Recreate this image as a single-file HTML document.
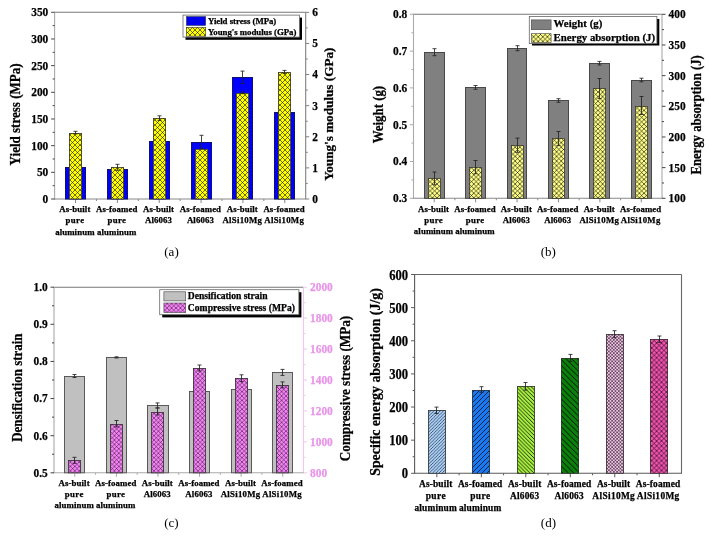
<!DOCTYPE html>
<html><head><meta charset="utf-8"><style>
html,body{margin:0;padding:0;background:#fff;}
svg{display:block;will-change:transform;}
text{font-family:"Liberation Serif","Times New Roman",serif;}
</style></head><body>
<svg width="709" height="541" viewBox="0 0 709 541">
<defs><pattern id="pyA" patternUnits="userSpaceOnUse" width="5" height="5"><rect width="5" height="5" fill="#ffff00"/><path d="M0,0L5,5M5,0L0,5" stroke="#111" stroke-width="0.6" stroke-opacity="1"/></pattern><pattern id="pyB" patternUnits="userSpaceOnUse" width="4.6" height="4.6"><rect width="4.6" height="4.6" fill="#ffff88"/><path d="M0,0L4.6,4.6M4.6,0L0,4.6" stroke="#000" stroke-width="0.6" stroke-opacity="1"/></pattern><pattern id="pmC" patternUnits="userSpaceOnUse" width="4.4" height="4.4"><rect width="4.4" height="4.4" fill="#f585f5"/><path d="M0,0L4.4,4.4M4.4,0L0,4.4" stroke="#200020" stroke-width="0.5" stroke-opacity="1"/></pattern><pattern id="pmCl" patternUnits="userSpaceOnUse" width="4.6" height="4.6"><rect width="4.6" height="4.6" fill="#f070f0"/><path d="M0,0L4.6,4.6M4.6,0L0,4.6" stroke="#000" stroke-width="0.7" stroke-opacity="1"/></pattern><pattern id="pd1" patternUnits="userSpaceOnUse" width="3.2" height="3.2"><rect width="3.2" height="3.2" fill="#a8d0f8"/><path d="M0,3.2L3.2,0M-1.6,1.6L1.6,-1.6M1.6,4.8L4.8,1.6" stroke="#000" stroke-width="0.55" stroke-opacity="1"/></pattern><pattern id="pd2" patternUnits="userSpaceOnUse" width="5" height="5"><rect width="5" height="5" fill="#1a78f0"/><path d="M0,5L5,0M-2.5,2.5L2.5,-2.5M2.5,7.5L7.5,2.5" stroke="#000" stroke-width="0.7" stroke-opacity="1"/></pattern><pattern id="pd3" patternUnits="userSpaceOnUse" width="3.8" height="3.8"><rect width="3.8" height="3.8" fill="#a8f040"/><path d="M0,0L3.8,3.8M-1.9,1.9L1.9,5.7M1.9,-1.9L5.7,1.9" stroke="#000" stroke-width="0.8" stroke-opacity="1"/></pattern><pattern id="pd4" patternUnits="userSpaceOnUse" width="5.6" height="5.6"><rect width="5.6" height="5.6" fill="#0c800c"/><path d="M0,0L5.6,5.6M-2.8,2.8L2.8,8.4M2.8,-2.8L8.4,2.8" stroke="#000" stroke-width="0.9" stroke-opacity="1"/></pattern><pattern id="pd5" patternUnits="userSpaceOnUse" width="3.3" height="3.3"><rect width="3.3" height="3.3" fill="#f8c4ec"/><path d="M0,0L3.3,3.3M3.3,0L0,3.3" stroke="#000" stroke-width="0.5" stroke-opacity="1"/></pattern><pattern id="pd6" patternUnits="userSpaceOnUse" width="4.9" height="4.9"><rect width="4.9" height="4.9" fill="#f452b0"/><path d="M0,0L4.9,4.9M4.9,0L0,4.9" stroke="#000" stroke-width="0.6" stroke-opacity="1"/></pattern></defs>
<rect width="709" height="541" fill="#fff"/>
<line x1="54.1" y1="12.3" x2="305.7" y2="12.3" stroke="#777" stroke-width="1.1"/>
<line x1="54.6" y1="12.3" x2="54.6" y2="199.5" stroke="#aaa" stroke-width="1.1"/>
<line x1="305.7" y1="12.3" x2="305.7" y2="199" stroke="#808080" stroke-width="1.1"/>
<line x1="54.1" y1="199" x2="306.2" y2="199" stroke="#888" stroke-width="1.1"/>
<line x1="51.1" y1="199" x2="54.6" y2="199" stroke="#444" stroke-width="1"/>
<text x="48.3" y="202.9" font-size="13.5" font-weight="bold" text-anchor="end" fill="#000" stroke="#000" stroke-width="0.25" textLength="5.7" lengthAdjust="spacingAndGlyphs">0</text>
<line x1="52.6" y1="185.66" x2="54.6" y2="185.66" stroke="#444" stroke-width="1"/>
<line x1="51.1" y1="172.33" x2="54.6" y2="172.33" stroke="#444" stroke-width="1"/>
<text x="48.3" y="176.23" font-size="13.5" font-weight="bold" text-anchor="end" fill="#000" stroke="#000" stroke-width="0.25" textLength="11.4" lengthAdjust="spacingAndGlyphs">50</text>
<line x1="52.6" y1="158.99" x2="54.6" y2="158.99" stroke="#444" stroke-width="1"/>
<line x1="51.1" y1="145.66" x2="54.6" y2="145.66" stroke="#444" stroke-width="1"/>
<text x="48.3" y="149.56" font-size="13.5" font-weight="bold" text-anchor="end" fill="#000" stroke="#000" stroke-width="0.25" textLength="17.1" lengthAdjust="spacingAndGlyphs">100</text>
<line x1="52.6" y1="132.32" x2="54.6" y2="132.32" stroke="#444" stroke-width="1"/>
<line x1="51.1" y1="118.99" x2="54.6" y2="118.99" stroke="#444" stroke-width="1"/>
<text x="48.3" y="122.89" font-size="13.5" font-weight="bold" text-anchor="end" fill="#000" stroke="#000" stroke-width="0.25" textLength="17.1" lengthAdjust="spacingAndGlyphs">150</text>
<line x1="52.6" y1="105.65" x2="54.6" y2="105.65" stroke="#444" stroke-width="1"/>
<line x1="51.1" y1="92.31" x2="54.6" y2="92.31" stroke="#444" stroke-width="1"/>
<text x="48.3" y="96.21" font-size="13.5" font-weight="bold" text-anchor="end" fill="#000" stroke="#000" stroke-width="0.25" textLength="17.1" lengthAdjust="spacingAndGlyphs">200</text>
<line x1="52.6" y1="78.98" x2="54.6" y2="78.98" stroke="#444" stroke-width="1"/>
<line x1="51.1" y1="65.64" x2="54.6" y2="65.64" stroke="#444" stroke-width="1"/>
<text x="48.3" y="69.54" font-size="13.5" font-weight="bold" text-anchor="end" fill="#000" stroke="#000" stroke-width="0.25" textLength="17.1" lengthAdjust="spacingAndGlyphs">250</text>
<line x1="52.6" y1="52.31" x2="54.6" y2="52.31" stroke="#444" stroke-width="1"/>
<line x1="51.1" y1="38.97" x2="54.6" y2="38.97" stroke="#444" stroke-width="1"/>
<text x="48.3" y="42.87" font-size="13.5" font-weight="bold" text-anchor="end" fill="#000" stroke="#000" stroke-width="0.25" textLength="17.1" lengthAdjust="spacingAndGlyphs">300</text>
<line x1="52.6" y1="25.64" x2="54.6" y2="25.64" stroke="#444" stroke-width="1"/>
<line x1="51.1" y1="12.3" x2="54.6" y2="12.3" stroke="#444" stroke-width="1"/>
<text x="48.3" y="16.2" font-size="13.5" font-weight="bold" text-anchor="end" fill="#000" stroke="#000" stroke-width="0.25" textLength="17.1" lengthAdjust="spacingAndGlyphs">350</text>
<line x1="305.7" y1="199" x2="309.2" y2="199" stroke="#808080" stroke-width="1"/>
<text x="312.2" y="202.9" font-size="13.5" font-weight="bold" text-anchor="start" fill="#000" stroke="#000" stroke-width="0.25" textLength="5.7" lengthAdjust="spacingAndGlyphs">0</text>
<line x1="305.7" y1="183.44" x2="307.7" y2="183.44" stroke="#808080" stroke-width="1"/>
<line x1="305.7" y1="167.88" x2="309.2" y2="167.88" stroke="#808080" stroke-width="1"/>
<text x="312.2" y="171.78" font-size="13.5" font-weight="bold" text-anchor="start" fill="#000" stroke="#000" stroke-width="0.25" textLength="5.7" lengthAdjust="spacingAndGlyphs">1</text>
<line x1="305.7" y1="152.32" x2="307.7" y2="152.32" stroke="#808080" stroke-width="1"/>
<line x1="305.7" y1="136.77" x2="309.2" y2="136.77" stroke="#808080" stroke-width="1"/>
<text x="312.2" y="140.67" font-size="13.5" font-weight="bold" text-anchor="start" fill="#000" stroke="#000" stroke-width="0.25" textLength="5.7" lengthAdjust="spacingAndGlyphs">2</text>
<line x1="305.7" y1="121.21" x2="307.7" y2="121.21" stroke="#808080" stroke-width="1"/>
<line x1="305.7" y1="105.65" x2="309.2" y2="105.65" stroke="#808080" stroke-width="1"/>
<text x="312.2" y="109.55" font-size="13.5" font-weight="bold" text-anchor="start" fill="#000" stroke="#000" stroke-width="0.25" textLength="5.7" lengthAdjust="spacingAndGlyphs">3</text>
<line x1="305.7" y1="90.09" x2="307.7" y2="90.09" stroke="#808080" stroke-width="1"/>
<line x1="305.7" y1="74.53" x2="309.2" y2="74.53" stroke="#808080" stroke-width="1"/>
<text x="312.2" y="78.43" font-size="13.5" font-weight="bold" text-anchor="start" fill="#000" stroke="#000" stroke-width="0.25" textLength="5.7" lengthAdjust="spacingAndGlyphs">4</text>
<line x1="305.7" y1="58.98" x2="307.7" y2="58.98" stroke="#808080" stroke-width="1"/>
<line x1="305.7" y1="43.42" x2="309.2" y2="43.42" stroke="#808080" stroke-width="1"/>
<text x="312.2" y="47.32" font-size="13.5" font-weight="bold" text-anchor="start" fill="#000" stroke="#000" stroke-width="0.25" textLength="5.7" lengthAdjust="spacingAndGlyphs">5</text>
<line x1="305.7" y1="27.86" x2="307.7" y2="27.86" stroke="#808080" stroke-width="1"/>
<line x1="305.7" y1="12.3" x2="309.2" y2="12.3" stroke="#808080" stroke-width="1"/>
<text x="312.2" y="16.2" font-size="13.5" font-weight="bold" text-anchor="start" fill="#000" stroke="#000" stroke-width="0.25" textLength="5.7" lengthAdjust="spacingAndGlyphs">6</text>
<line x1="75.53" y1="199" x2="75.53" y2="203" stroke="#888" stroke-width="1"/>
<line x1="117.38" y1="199" x2="117.38" y2="203" stroke="#888" stroke-width="1"/>
<line x1="96.45" y1="199" x2="96.45" y2="201" stroke="#888" stroke-width="1"/>
<line x1="159.22" y1="199" x2="159.22" y2="203" stroke="#888" stroke-width="1"/>
<line x1="138.3" y1="199" x2="138.3" y2="201" stroke="#888" stroke-width="1"/>
<line x1="201.07" y1="199" x2="201.07" y2="203" stroke="#888" stroke-width="1"/>
<line x1="180.15" y1="199" x2="180.15" y2="201" stroke="#888" stroke-width="1"/>
<line x1="242.93" y1="199" x2="242.93" y2="203" stroke="#888" stroke-width="1"/>
<line x1="222" y1="199" x2="222" y2="201" stroke="#888" stroke-width="1"/>
<line x1="284.78" y1="199" x2="284.78" y2="203" stroke="#888" stroke-width="1"/>
<line x1="263.85" y1="199" x2="263.85" y2="201" stroke="#888" stroke-width="1"/>
<text x="74.83" y="212" font-size="8.8" font-weight="bold" text-anchor="middle" fill="#000" stroke="#000" stroke-width="0.25" textLength="31" lengthAdjust="spacing">As-built</text>
<text x="74.83" y="223.2" font-size="8.8" font-weight="bold" text-anchor="middle" fill="#000" stroke="#000" stroke-width="0.25" textLength="18.5" lengthAdjust="spacing">pure</text>
<text x="74.83" y="234.6" font-size="8.8" font-weight="bold" text-anchor="middle" fill="#000" stroke="#000" stroke-width="0.25" textLength="39.3" lengthAdjust="spacing">aluminum</text>
<text x="116.67" y="212" font-size="8.8" font-weight="bold" text-anchor="middle" fill="#000" stroke="#000" stroke-width="0.25" textLength="41.3" lengthAdjust="spacing">As-foamed</text>
<text x="116.67" y="223.2" font-size="8.8" font-weight="bold" text-anchor="middle" fill="#000" stroke="#000" stroke-width="0.25" textLength="18.5" lengthAdjust="spacing">pure</text>
<text x="116.67" y="234.6" font-size="8.8" font-weight="bold" text-anchor="middle" fill="#000" stroke="#000" stroke-width="0.25" textLength="39.3" lengthAdjust="spacing">aluminum</text>
<text x="158.53" y="212" font-size="8.8" font-weight="bold" text-anchor="middle" fill="#000" stroke="#000" stroke-width="0.25" textLength="31" lengthAdjust="spacing">As-built</text>
<text x="158.53" y="223.2" font-size="8.8" font-weight="bold" text-anchor="middle" fill="#000" stroke="#000" stroke-width="0.25" textLength="27" lengthAdjust="spacing">Al6063</text>
<text x="200.38" y="212" font-size="8.8" font-weight="bold" text-anchor="middle" fill="#000" stroke="#000" stroke-width="0.25" textLength="41.3" lengthAdjust="spacing">As-foamed</text>
<text x="200.38" y="223.2" font-size="8.8" font-weight="bold" text-anchor="middle" fill="#000" stroke="#000" stroke-width="0.25" textLength="27" lengthAdjust="spacing">Al6063</text>
<text x="242.23" y="212" font-size="8.8" font-weight="bold" text-anchor="middle" fill="#000" stroke="#000" stroke-width="0.25" textLength="31" lengthAdjust="spacing">As-built</text>
<text x="242.23" y="223.2" font-size="8.8" font-weight="bold" text-anchor="middle" fill="#000" stroke="#000" stroke-width="0.25" textLength="39.5" lengthAdjust="spacing">AlSi10Mg</text>
<text x="284.08" y="212" font-size="8.8" font-weight="bold" text-anchor="middle" fill="#000" stroke="#000" stroke-width="0.25" textLength="41.3" lengthAdjust="spacing">As-foamed</text>
<text x="284.08" y="223.2" font-size="8.8" font-weight="bold" text-anchor="middle" fill="#000" stroke="#000" stroke-width="0.25" textLength="39.5" lengthAdjust="spacing">AlSi10Mg</text>
<rect x="65" y="167" width="21" height="32" fill="#0000ff"/>
<rect x="65.5" y="167.5" width="20" height="31.5" fill="none" stroke="#101070" stroke-width="1"/>
<rect x="107" y="169" width="21" height="30" fill="#0000ff"/>
<rect x="107.5" y="169.5" width="20" height="29.5" fill="none" stroke="#101070" stroke-width="1"/>
<rect x="149" y="141" width="21" height="58" fill="#0000ff"/>
<rect x="149.5" y="141.5" width="20" height="57.5" fill="none" stroke="#101070" stroke-width="1"/>
<rect x="191" y="142" width="21" height="57" fill="#0000ff"/>
<rect x="191.5" y="142.5" width="20" height="56.5" fill="none" stroke="#101070" stroke-width="1"/>
<path d="M201.5,135.3V148.3M199.5,135.3H203.5M199.5,148.3H203.5" stroke="#222" stroke-width="0.85" fill="none"/>
<rect x="232" y="77" width="21" height="122" fill="#0000ff"/>
<rect x="232.5" y="77.5" width="20" height="121.5" fill="none" stroke="#101070" stroke-width="1"/>
<path d="M242.5,71.1V83.5M240.5,71.1H244.5M240.5,83.5H244.5" stroke="#222" stroke-width="0.85" fill="none"/>
<rect x="274" y="112" width="21" height="87" fill="#0000ff"/>
<rect x="274.5" y="112.5" width="20" height="86.5" fill="none" stroke="#101070" stroke-width="1"/>
<rect x="69" y="133" width="13" height="66" fill="url(#pyA)"/>
<rect x="69.5" y="133.5" width="12" height="65.5" fill="none" stroke="#333" stroke-width="0.8"/>
<path d="M75.5,131.3V133.9M73.5,131.3H77.5M73.5,133.9H77.5" stroke="#222" stroke-width="0.85" fill="none"/>
<rect x="111" y="167" width="13" height="32" fill="url(#pyA)"/>
<rect x="111.5" y="167.5" width="12" height="31.5" fill="none" stroke="#333" stroke-width="0.8"/>
<path d="M117.5,164.3V170.3M115.5,164.3H119.5M115.5,170.3H119.5" stroke="#222" stroke-width="0.85" fill="none"/>
<rect x="153" y="118" width="13" height="81" fill="url(#pyA)"/>
<rect x="153.5" y="118.5" width="12" height="80.5" fill="none" stroke="#333" stroke-width="0.8"/>
<path d="M159.5,115.8V120.4M157.5,115.8H161.5M157.5,120.4H161.5" stroke="#222" stroke-width="0.85" fill="none"/>
<rect x="195" y="149" width="13" height="50" fill="url(#pyA)"/>
<rect x="195.5" y="149.5" width="12" height="49.5" fill="none" stroke="#333" stroke-width="0.8"/>
<rect x="236" y="93" width="13" height="106" fill="url(#pyA)"/>
<rect x="236.5" y="93.5" width="12" height="105.5" fill="none" stroke="#333" stroke-width="0.8"/>
<path d="M242.5,92V93.6M240.5,92H244.5M240.5,93.6H244.5" stroke="#222" stroke-width="0.85" fill="none"/>
<rect x="278" y="72" width="13" height="127" fill="url(#pyA)"/>
<rect x="278.5" y="72.5" width="12" height="126.5" fill="none" stroke="#333" stroke-width="0.8"/>
<path d="M284.5,70.4V73.4M282.5,70.4H286.5M282.5,73.4H286.5" stroke="#222" stroke-width="0.85" fill="none"/>
<rect x="185.5" y="17.6" width="116.5" height="22.2" fill="#000"/>
<rect x="183" y="15.1" width="116.5" height="22" fill="#fff" stroke="#666" stroke-width="0.8"/>
<rect x="186.4" y="16.5" width="19.3" height="9" fill="#0000f0" stroke="#333" stroke-width="0.5"/>
<rect x="186.4" y="27.3" width="19.3" height="8.9" fill="url(#pyA)" stroke="#333" stroke-width="0.6"/>
<text x="207.9" y="23.9" font-size="8.8" font-weight="bold" text-anchor="start" fill="#000" stroke="#000" stroke-width="0.25" textLength="68.4" lengthAdjust="spacing">Yield stress (MPa)</text>
<text x="207.9" y="34.7" font-size="8.8" font-weight="bold" text-anchor="start" fill="#000" stroke="#000" stroke-width="0.25" textLength="88.5" lengthAdjust="spacing">Young's modulus (GPa)</text>
<text x="19.9" y="114.4" font-size="13.6" font-weight="bold" text-anchor="middle" fill="#000" stroke="#000" stroke-width="0.25" transform="rotate(-90 19.9 114.4)" textLength="102" lengthAdjust="spacingAndGlyphs">Yield stress (MPa)</text>
<text x="332.6" y="114.2" font-size="13.4" font-weight="bold" text-anchor="middle" fill="#000" stroke="#000" stroke-width="0.25" transform="rotate(-90 332.6 114.2)" textLength="133.2" lengthAdjust="spacingAndGlyphs">Young's modulus (GPa)</text>
<text x="171.5" y="255.7" font-size="13" font-weight="normal" text-anchor="middle" fill="#000">(a)</text>
<line x1="413" y1="14.3" x2="662" y2="14.3" stroke="#777" stroke-width="1.1"/>
<line x1="413.5" y1="14.3" x2="413.5" y2="198.8" stroke="#aaa" stroke-width="1.1"/>
<line x1="662" y1="14.3" x2="662" y2="198.3" stroke="#aaa" stroke-width="1.1"/>
<line x1="413" y1="198.3" x2="662.5" y2="198.3" stroke="#888" stroke-width="1.1"/>
<line x1="410" y1="198.3" x2="413.5" y2="198.3" stroke="#aaa" stroke-width="1"/>
<text x="407.2" y="202.2" font-size="13.5" font-weight="bold" text-anchor="end" fill="#000" stroke="#000" stroke-width="0.25" textLength="14.25" lengthAdjust="spacingAndGlyphs">0.3</text>
<line x1="411.5" y1="179.9" x2="413.5" y2="179.9" stroke="#aaa" stroke-width="1"/>
<line x1="410" y1="161.5" x2="413.5" y2="161.5" stroke="#aaa" stroke-width="1"/>
<text x="407.2" y="165.4" font-size="13.5" font-weight="bold" text-anchor="end" fill="#000" stroke="#000" stroke-width="0.25" textLength="14.25" lengthAdjust="spacingAndGlyphs">0.4</text>
<line x1="411.5" y1="143.1" x2="413.5" y2="143.1" stroke="#aaa" stroke-width="1"/>
<line x1="410" y1="124.7" x2="413.5" y2="124.7" stroke="#aaa" stroke-width="1"/>
<text x="407.2" y="128.6" font-size="13.5" font-weight="bold" text-anchor="end" fill="#000" stroke="#000" stroke-width="0.25" textLength="14.25" lengthAdjust="spacingAndGlyphs">0.5</text>
<line x1="411.5" y1="106.3" x2="413.5" y2="106.3" stroke="#aaa" stroke-width="1"/>
<line x1="410" y1="87.9" x2="413.5" y2="87.9" stroke="#aaa" stroke-width="1"/>
<text x="407.2" y="91.8" font-size="13.5" font-weight="bold" text-anchor="end" fill="#000" stroke="#000" stroke-width="0.25" textLength="14.25" lengthAdjust="spacingAndGlyphs">0.6</text>
<line x1="411.5" y1="69.5" x2="413.5" y2="69.5" stroke="#aaa" stroke-width="1"/>
<line x1="410" y1="51.1" x2="413.5" y2="51.1" stroke="#aaa" stroke-width="1"/>
<text x="407.2" y="55" font-size="13.5" font-weight="bold" text-anchor="end" fill="#000" stroke="#000" stroke-width="0.25" textLength="14.25" lengthAdjust="spacingAndGlyphs">0.7</text>
<line x1="411.5" y1="32.7" x2="413.5" y2="32.7" stroke="#aaa" stroke-width="1"/>
<line x1="410" y1="14.3" x2="413.5" y2="14.3" stroke="#aaa" stroke-width="1"/>
<text x="407.2" y="18.2" font-size="13.5" font-weight="bold" text-anchor="end" fill="#000" stroke="#000" stroke-width="0.25" textLength="14.25" lengthAdjust="spacingAndGlyphs">0.8</text>
<line x1="662" y1="198.3" x2="665.5" y2="198.3" stroke="#444" stroke-width="1"/>
<text x="668.5" y="202.2" font-size="13.5" font-weight="bold" text-anchor="start" fill="#000" stroke="#000" stroke-width="0.25" textLength="17.1" lengthAdjust="spacingAndGlyphs">100</text>
<line x1="662" y1="182.97" x2="664" y2="182.97" stroke="#444" stroke-width="1"/>
<line x1="662" y1="167.63" x2="665.5" y2="167.63" stroke="#444" stroke-width="1"/>
<text x="668.5" y="171.53" font-size="13.5" font-weight="bold" text-anchor="start" fill="#000" stroke="#000" stroke-width="0.25" textLength="17.1" lengthAdjust="spacingAndGlyphs">150</text>
<line x1="662" y1="152.3" x2="664" y2="152.3" stroke="#444" stroke-width="1"/>
<line x1="662" y1="136.97" x2="665.5" y2="136.97" stroke="#444" stroke-width="1"/>
<text x="668.5" y="140.87" font-size="13.5" font-weight="bold" text-anchor="start" fill="#000" stroke="#000" stroke-width="0.25" textLength="17.1" lengthAdjust="spacingAndGlyphs">200</text>
<line x1="662" y1="121.63" x2="664" y2="121.63" stroke="#444" stroke-width="1"/>
<line x1="662" y1="106.3" x2="665.5" y2="106.3" stroke="#444" stroke-width="1"/>
<text x="668.5" y="110.2" font-size="13.5" font-weight="bold" text-anchor="start" fill="#000" stroke="#000" stroke-width="0.25" textLength="17.1" lengthAdjust="spacingAndGlyphs">250</text>
<line x1="662" y1="90.97" x2="664" y2="90.97" stroke="#444" stroke-width="1"/>
<line x1="662" y1="75.63" x2="665.5" y2="75.63" stroke="#444" stroke-width="1"/>
<text x="668.5" y="79.53" font-size="13.5" font-weight="bold" text-anchor="start" fill="#000" stroke="#000" stroke-width="0.25" textLength="17.1" lengthAdjust="spacingAndGlyphs">300</text>
<line x1="662" y1="60.3" x2="664" y2="60.3" stroke="#444" stroke-width="1"/>
<line x1="662" y1="44.97" x2="665.5" y2="44.97" stroke="#444" stroke-width="1"/>
<text x="668.5" y="48.87" font-size="13.5" font-weight="bold" text-anchor="start" fill="#000" stroke="#000" stroke-width="0.25" textLength="17.1" lengthAdjust="spacingAndGlyphs">350</text>
<line x1="662" y1="29.63" x2="664" y2="29.63" stroke="#444" stroke-width="1"/>
<line x1="662" y1="14.3" x2="665.5" y2="14.3" stroke="#444" stroke-width="1"/>
<text x="668.5" y="18.2" font-size="13.5" font-weight="bold" text-anchor="start" fill="#000" stroke="#000" stroke-width="0.25" textLength="17.1" lengthAdjust="spacingAndGlyphs">400</text>
<line x1="434.21" y1="198.3" x2="434.21" y2="202.3" stroke="#888" stroke-width="1"/>
<line x1="475.62" y1="198.3" x2="475.62" y2="202.3" stroke="#888" stroke-width="1"/>
<line x1="454.92" y1="198.3" x2="454.92" y2="200.3" stroke="#888" stroke-width="1"/>
<line x1="517.04" y1="198.3" x2="517.04" y2="202.3" stroke="#888" stroke-width="1"/>
<line x1="496.33" y1="198.3" x2="496.33" y2="200.3" stroke="#888" stroke-width="1"/>
<line x1="558.46" y1="198.3" x2="558.46" y2="202.3" stroke="#888" stroke-width="1"/>
<line x1="537.75" y1="198.3" x2="537.75" y2="200.3" stroke="#888" stroke-width="1"/>
<line x1="599.88" y1="198.3" x2="599.88" y2="202.3" stroke="#888" stroke-width="1"/>
<line x1="579.17" y1="198.3" x2="579.17" y2="200.3" stroke="#888" stroke-width="1"/>
<line x1="641.29" y1="198.3" x2="641.29" y2="202.3" stroke="#888" stroke-width="1"/>
<line x1="620.58" y1="198.3" x2="620.58" y2="200.3" stroke="#888" stroke-width="1"/>
<text x="433.51" y="211.8" font-size="8.8" font-weight="bold" text-anchor="middle" fill="#000" stroke="#000" stroke-width="0.25" textLength="31" lengthAdjust="spacing">As-built</text>
<text x="433.51" y="223" font-size="8.8" font-weight="bold" text-anchor="middle" fill="#000" stroke="#000" stroke-width="0.25" textLength="18.5" lengthAdjust="spacing">pure</text>
<text x="433.51" y="234.4" font-size="8.8" font-weight="bold" text-anchor="middle" fill="#000" stroke="#000" stroke-width="0.25" textLength="39.3" lengthAdjust="spacing">aluminum</text>
<text x="474.93" y="211.8" font-size="8.8" font-weight="bold" text-anchor="middle" fill="#000" stroke="#000" stroke-width="0.25" textLength="41.3" lengthAdjust="spacing">As-foamed</text>
<text x="474.93" y="223" font-size="8.8" font-weight="bold" text-anchor="middle" fill="#000" stroke="#000" stroke-width="0.25" textLength="18.5" lengthAdjust="spacing">pure</text>
<text x="474.93" y="234.4" font-size="8.8" font-weight="bold" text-anchor="middle" fill="#000" stroke="#000" stroke-width="0.25" textLength="39.3" lengthAdjust="spacing">aluminum</text>
<text x="516.34" y="211.8" font-size="8.8" font-weight="bold" text-anchor="middle" fill="#000" stroke="#000" stroke-width="0.25" textLength="31" lengthAdjust="spacing">As-built</text>
<text x="516.34" y="223" font-size="8.8" font-weight="bold" text-anchor="middle" fill="#000" stroke="#000" stroke-width="0.25" textLength="27" lengthAdjust="spacing">Al6063</text>
<text x="557.76" y="211.8" font-size="8.8" font-weight="bold" text-anchor="middle" fill="#000" stroke="#000" stroke-width="0.25" textLength="41.3" lengthAdjust="spacing">As-foamed</text>
<text x="557.76" y="223" font-size="8.8" font-weight="bold" text-anchor="middle" fill="#000" stroke="#000" stroke-width="0.25" textLength="27" lengthAdjust="spacing">Al6063</text>
<text x="599.17" y="211.8" font-size="8.8" font-weight="bold" text-anchor="middle" fill="#000" stroke="#000" stroke-width="0.25" textLength="31" lengthAdjust="spacing">As-built</text>
<text x="599.17" y="223" font-size="8.8" font-weight="bold" text-anchor="middle" fill="#000" stroke="#000" stroke-width="0.25" textLength="39.5" lengthAdjust="spacing">AlSi10Mg</text>
<text x="640.59" y="211.8" font-size="8.8" font-weight="bold" text-anchor="middle" fill="#000" stroke="#000" stroke-width="0.25" textLength="41.3" lengthAdjust="spacing">As-foamed</text>
<text x="640.59" y="223" font-size="8.8" font-weight="bold" text-anchor="middle" fill="#000" stroke="#000" stroke-width="0.25" textLength="39.5" lengthAdjust="spacing">AlSi10Mg</text>
<rect x="424" y="52" width="21" height="146.3" fill="#808080"/>
<rect x="424.5" y="52.5" width="20" height="145.8" fill="none" stroke="#484848" stroke-width="1"/>
<path d="M434.5,48.7V55.7M432.5,48.7H436.5M432.5,55.7H436.5" stroke="#222" stroke-width="0.85" fill="none"/>
<rect x="465" y="87" width="21" height="111.3" fill="#808080"/>
<rect x="465.5" y="87.5" width="20" height="110.8" fill="none" stroke="#484848" stroke-width="1"/>
<path d="M475.5,85.5V89.3M473.5,85.5H477.5M473.5,89.3H477.5" stroke="#222" stroke-width="0.85" fill="none"/>
<rect x="507" y="48" width="20" height="150.3" fill="#808080"/>
<rect x="507.5" y="48.5" width="19" height="149.8" fill="none" stroke="#484848" stroke-width="1"/>
<path d="M517.5,45.7V50.7M515.5,45.7H519.5M515.5,50.7H519.5" stroke="#222" stroke-width="0.85" fill="none"/>
<rect x="548" y="100" width="21" height="98.3" fill="#808080"/>
<rect x="548.5" y="100.5" width="20" height="97.8" fill="none" stroke="#484848" stroke-width="1"/>
<path d="M558.5,98.7V102.3M556.5,98.7H560.5M556.5,102.3H560.5" stroke="#222" stroke-width="0.85" fill="none"/>
<rect x="589" y="63" width="21" height="135.3" fill="#808080"/>
<rect x="589.5" y="63.5" width="20" height="134.8" fill="none" stroke="#484848" stroke-width="1"/>
<path d="M599.5,61.4V65M597.5,61.4H601.5M597.5,65H601.5" stroke="#222" stroke-width="0.85" fill="none"/>
<rect x="631" y="80" width="21" height="118.3" fill="#808080"/>
<rect x="631.5" y="80.5" width="20" height="117.8" fill="none" stroke="#484848" stroke-width="1"/>
<path d="M641.5,78.2V81.8M639.5,78.2H643.5M639.5,81.8H643.5" stroke="#222" stroke-width="0.85" fill="none"/>
<rect x="428" y="178" width="13" height="20.3" fill="url(#pyB)"/>
<rect x="428.5" y="178.5" width="12" height="19.8" fill="none" stroke="#333" stroke-width="0.8"/>
<path d="M434.5,172V184.8M432.5,172H436.5M432.5,184.8H436.5" stroke="#222" stroke-width="0.85" fill="none"/>
<rect x="469" y="167" width="13" height="31.3" fill="url(#pyB)"/>
<rect x="469.5" y="167.5" width="12" height="30.8" fill="none" stroke="#333" stroke-width="0.8"/>
<path d="M475.5,160.5V173.7M473.5,160.5H477.5M473.5,173.7H477.5" stroke="#222" stroke-width="0.85" fill="none"/>
<rect x="511" y="145" width="13" height="53.3" fill="url(#pyB)"/>
<rect x="511.5" y="145.5" width="12" height="52.8" fill="none" stroke="#333" stroke-width="0.8"/>
<path d="M517.5,138.1V152.3M515.5,138.1H519.5M515.5,152.3H519.5" stroke="#222" stroke-width="0.85" fill="none"/>
<rect x="552" y="138" width="13" height="60.3" fill="url(#pyB)"/>
<rect x="552.5" y="138.5" width="12" height="59.8" fill="none" stroke="#333" stroke-width="0.8"/>
<path d="M558.5,131.5V145.5M556.5,131.5H560.5M556.5,145.5H560.5" stroke="#222" stroke-width="0.85" fill="none"/>
<rect x="593" y="88" width="13" height="110.3" fill="url(#pyB)"/>
<rect x="593.5" y="88.5" width="12" height="109.8" fill="none" stroke="#333" stroke-width="0.8"/>
<path d="M599.5,78.5V98.5M597.5,78.5H601.5M597.5,98.5H601.5" stroke="#222" stroke-width="0.85" fill="none"/>
<rect x="635" y="106" width="13" height="92.3" fill="url(#pyB)"/>
<rect x="635.5" y="106.5" width="12" height="91.8" fill="none" stroke="#333" stroke-width="0.8"/>
<path d="M641.5,96.5V114.5M639.5,96.5H643.5M639.5,114.5H643.5" stroke="#222" stroke-width="0.85" fill="none"/>
<rect x="532" y="19" width="127.3" height="26.5" fill="#000"/>
<rect x="529.3" y="16.5" width="127.6" height="27.1" fill="#fff" stroke="#666" stroke-width="0.8"/>
<rect x="531.3" y="19.9" width="19.8" height="9.8" fill="#808080" stroke="#444" stroke-width="0.6"/>
<rect x="531.3" y="33.7" width="19.8" height="8.9" fill="url(#pyB)" stroke="#444" stroke-width="0.6"/>
<text x="553.6" y="27" font-size="10.8" font-weight="bold" text-anchor="start" fill="#000" stroke="#000" stroke-width="0.25" textLength="48.8" lengthAdjust="spacing">Weight (g)</text>
<text x="553.6" y="40.6" font-size="10.8" font-weight="bold" text-anchor="start" fill="#000" stroke="#000" stroke-width="0.25" textLength="101.4" lengthAdjust="spacing">Energy absorption (J)</text>
<text x="383.3" y="114.6" font-size="13.6" font-weight="bold" text-anchor="middle" fill="#000" stroke="#000" stroke-width="0.25" transform="rotate(-90 383.3 114.6)" textLength="57.5" lengthAdjust="spacingAndGlyphs">Weight (g)</text>
<text x="700.8" y="114.9" font-size="13.6" font-weight="bold" text-anchor="middle" fill="#000" stroke="#000" stroke-width="0.25" transform="rotate(-90 700.8 114.9)" textLength="119.3" lengthAdjust="spacingAndGlyphs">Energy absorption (J)</text>
<text x="548.3" y="255.7" font-size="13" font-weight="normal" text-anchor="middle" fill="#000">(b)</text>
<line x1="53.5" y1="287.2" x2="303.5" y2="287.2" stroke="#777" stroke-width="1.1"/>
<line x1="54" y1="287.2" x2="54" y2="473.3" stroke="#aaa" stroke-width="1.1"/>
<line x1="303.5" y1="287.2" x2="303.5" y2="472.8" stroke="#f2c4f2" stroke-width="1.1"/>
<line x1="53.5" y1="472.8" x2="304" y2="472.8" stroke="#aaa" stroke-width="1.1"/>
<line x1="50.5" y1="472.8" x2="54" y2="472.8" stroke="#444" stroke-width="1"/>
<text x="47.7" y="476.7" font-size="13.5" font-weight="bold" text-anchor="end" fill="#000" stroke="#000" stroke-width="0.25" textLength="14.25" lengthAdjust="spacingAndGlyphs">0.5</text>
<line x1="52" y1="454.24" x2="54" y2="454.24" stroke="#444" stroke-width="1"/>
<line x1="50.5" y1="435.68" x2="54" y2="435.68" stroke="#444" stroke-width="1"/>
<text x="47.7" y="439.58" font-size="13.5" font-weight="bold" text-anchor="end" fill="#000" stroke="#000" stroke-width="0.25" textLength="14.25" lengthAdjust="spacingAndGlyphs">0.6</text>
<line x1="52" y1="417.12" x2="54" y2="417.12" stroke="#444" stroke-width="1"/>
<line x1="50.5" y1="398.56" x2="54" y2="398.56" stroke="#444" stroke-width="1"/>
<text x="47.7" y="402.46" font-size="13.5" font-weight="bold" text-anchor="end" fill="#000" stroke="#000" stroke-width="0.25" textLength="14.25" lengthAdjust="spacingAndGlyphs">0.7</text>
<line x1="52" y1="380" x2="54" y2="380" stroke="#444" stroke-width="1"/>
<line x1="50.5" y1="361.44" x2="54" y2="361.44" stroke="#444" stroke-width="1"/>
<text x="47.7" y="365.34" font-size="13.5" font-weight="bold" text-anchor="end" fill="#000" stroke="#000" stroke-width="0.25" textLength="14.25" lengthAdjust="spacingAndGlyphs">0.8</text>
<line x1="52" y1="342.88" x2="54" y2="342.88" stroke="#444" stroke-width="1"/>
<line x1="50.5" y1="324.32" x2="54" y2="324.32" stroke="#444" stroke-width="1"/>
<text x="47.7" y="328.22" font-size="13.5" font-weight="bold" text-anchor="end" fill="#000" stroke="#000" stroke-width="0.25" textLength="14.25" lengthAdjust="spacingAndGlyphs">0.9</text>
<line x1="52" y1="305.76" x2="54" y2="305.76" stroke="#444" stroke-width="1"/>
<line x1="50.5" y1="287.2" x2="54" y2="287.2" stroke="#444" stroke-width="1"/>
<text x="47.7" y="291.1" font-size="13.5" font-weight="bold" text-anchor="end" fill="#000" stroke="#000" stroke-width="0.25" textLength="14.25" lengthAdjust="spacingAndGlyphs">1.0</text>
<line x1="303.5" y1="472.8" x2="307" y2="472.8" stroke="#f2c4f2" stroke-width="1"/>
<text x="310" y="476.7" font-size="13.5" font-weight="bold" text-anchor="start" fill="#ea94ea" stroke="#ea94ea" stroke-width="0.25" textLength="17.1" lengthAdjust="spacingAndGlyphs">800</text>
<line x1="303.5" y1="457.33" x2="305.5" y2="457.33" stroke="#f2c4f2" stroke-width="1"/>
<line x1="303.5" y1="441.87" x2="307" y2="441.87" stroke="#f2c4f2" stroke-width="1"/>
<text x="310" y="445.77" font-size="13.5" font-weight="bold" text-anchor="start" fill="#ea94ea" stroke="#ea94ea" stroke-width="0.25" textLength="22.8" lengthAdjust="spacingAndGlyphs">1000</text>
<line x1="303.5" y1="426.4" x2="305.5" y2="426.4" stroke="#f2c4f2" stroke-width="1"/>
<line x1="303.5" y1="410.93" x2="307" y2="410.93" stroke="#f2c4f2" stroke-width="1"/>
<text x="310" y="414.83" font-size="13.5" font-weight="bold" text-anchor="start" fill="#ea94ea" stroke="#ea94ea" stroke-width="0.25" textLength="22.8" lengthAdjust="spacingAndGlyphs">1200</text>
<line x1="303.5" y1="395.47" x2="305.5" y2="395.47" stroke="#f2c4f2" stroke-width="1"/>
<line x1="303.5" y1="380" x2="307" y2="380" stroke="#f2c4f2" stroke-width="1"/>
<text x="310" y="383.9" font-size="13.5" font-weight="bold" text-anchor="start" fill="#ea94ea" stroke="#ea94ea" stroke-width="0.25" textLength="22.8" lengthAdjust="spacingAndGlyphs">1400</text>
<line x1="303.5" y1="364.53" x2="305.5" y2="364.53" stroke="#f2c4f2" stroke-width="1"/>
<line x1="303.5" y1="349.07" x2="307" y2="349.07" stroke="#f2c4f2" stroke-width="1"/>
<text x="310" y="352.97" font-size="13.5" font-weight="bold" text-anchor="start" fill="#ea94ea" stroke="#ea94ea" stroke-width="0.25" textLength="22.8" lengthAdjust="spacingAndGlyphs">1600</text>
<line x1="303.5" y1="333.6" x2="305.5" y2="333.6" stroke="#f2c4f2" stroke-width="1"/>
<line x1="303.5" y1="318.13" x2="307" y2="318.13" stroke="#f2c4f2" stroke-width="1"/>
<text x="310" y="322.03" font-size="13.5" font-weight="bold" text-anchor="start" fill="#ea94ea" stroke="#ea94ea" stroke-width="0.25" textLength="22.8" lengthAdjust="spacingAndGlyphs">1800</text>
<line x1="303.5" y1="302.67" x2="305.5" y2="302.67" stroke="#f2c4f2" stroke-width="1"/>
<line x1="303.5" y1="287.2" x2="307" y2="287.2" stroke="#f2c4f2" stroke-width="1"/>
<text x="310" y="291.1" font-size="13.5" font-weight="bold" text-anchor="start" fill="#ea94ea" stroke="#ea94ea" stroke-width="0.25" textLength="22.8" lengthAdjust="spacingAndGlyphs">2000</text>
<line x1="74.79" y1="472.8" x2="74.79" y2="476.8" stroke="#aaa" stroke-width="1"/>
<line x1="116.38" y1="472.8" x2="116.38" y2="476.8" stroke="#aaa" stroke-width="1"/>
<line x1="95.58" y1="472.8" x2="95.58" y2="474.8" stroke="#aaa" stroke-width="1"/>
<line x1="157.96" y1="472.8" x2="157.96" y2="476.8" stroke="#aaa" stroke-width="1"/>
<line x1="137.17" y1="472.8" x2="137.17" y2="474.8" stroke="#aaa" stroke-width="1"/>
<line x1="199.54" y1="472.8" x2="199.54" y2="476.8" stroke="#aaa" stroke-width="1"/>
<line x1="178.75" y1="472.8" x2="178.75" y2="474.8" stroke="#aaa" stroke-width="1"/>
<line x1="241.12" y1="472.8" x2="241.12" y2="476.8" stroke="#aaa" stroke-width="1"/>
<line x1="220.33" y1="472.8" x2="220.33" y2="474.8" stroke="#aaa" stroke-width="1"/>
<line x1="282.71" y1="472.8" x2="282.71" y2="476.8" stroke="#aaa" stroke-width="1"/>
<line x1="261.92" y1="472.8" x2="261.92" y2="474.8" stroke="#aaa" stroke-width="1"/>
<text x="74.09" y="485.7" font-size="8.8" font-weight="bold" text-anchor="middle" fill="#000" stroke="#000" stroke-width="0.25" textLength="31" lengthAdjust="spacing">As-built</text>
<text x="74.09" y="496.9" font-size="8.8" font-weight="bold" text-anchor="middle" fill="#000" stroke="#000" stroke-width="0.25" textLength="18.5" lengthAdjust="spacing">pure</text>
<text x="74.09" y="508.3" font-size="8.8" font-weight="bold" text-anchor="middle" fill="#000" stroke="#000" stroke-width="0.25" textLength="39.3" lengthAdjust="spacing">aluminum</text>
<text x="115.67" y="485.7" font-size="8.8" font-weight="bold" text-anchor="middle" fill="#000" stroke="#000" stroke-width="0.25" textLength="41.3" lengthAdjust="spacing">As-foamed</text>
<text x="115.67" y="496.9" font-size="8.8" font-weight="bold" text-anchor="middle" fill="#000" stroke="#000" stroke-width="0.25" textLength="18.5" lengthAdjust="spacing">pure</text>
<text x="115.67" y="508.3" font-size="8.8" font-weight="bold" text-anchor="middle" fill="#000" stroke="#000" stroke-width="0.25" textLength="39.3" lengthAdjust="spacing">aluminum</text>
<text x="157.26" y="485.7" font-size="8.8" font-weight="bold" text-anchor="middle" fill="#000" stroke="#000" stroke-width="0.25" textLength="31" lengthAdjust="spacing">As-built</text>
<text x="157.26" y="496.9" font-size="8.8" font-weight="bold" text-anchor="middle" fill="#000" stroke="#000" stroke-width="0.25" textLength="27" lengthAdjust="spacing">Al6063</text>
<text x="198.84" y="485.7" font-size="8.8" font-weight="bold" text-anchor="middle" fill="#000" stroke="#000" stroke-width="0.25" textLength="41.3" lengthAdjust="spacing">As-foamed</text>
<text x="198.84" y="496.9" font-size="8.8" font-weight="bold" text-anchor="middle" fill="#000" stroke="#000" stroke-width="0.25" textLength="27" lengthAdjust="spacing">Al6063</text>
<text x="240.43" y="485.7" font-size="8.8" font-weight="bold" text-anchor="middle" fill="#000" stroke="#000" stroke-width="0.25" textLength="31" lengthAdjust="spacing">As-built</text>
<text x="240.43" y="496.9" font-size="8.8" font-weight="bold" text-anchor="middle" fill="#000" stroke="#000" stroke-width="0.25" textLength="39.5" lengthAdjust="spacing">AlSi10Mg</text>
<text x="282.01" y="485.7" font-size="8.8" font-weight="bold" text-anchor="middle" fill="#000" stroke="#000" stroke-width="0.25" textLength="41.3" lengthAdjust="spacing">As-foamed</text>
<text x="282.01" y="496.9" font-size="8.8" font-weight="bold" text-anchor="middle" fill="#000" stroke="#000" stroke-width="0.25" textLength="39.5" lengthAdjust="spacing">AlSi10Mg</text>
<rect x="64" y="376" width="21" height="96.8" fill="#c0c0c0"/>
<rect x="64.5" y="376.5" width="20" height="96.3" fill="none" stroke="#505050" stroke-width="0.9"/>
<path d="M74.5,374.5V377.5M72.5,374.5H76.5M72.5,377.5H76.5" stroke="#222" stroke-width="0.85" fill="none"/>
<rect x="106" y="357" width="21" height="115.8" fill="#c0c0c0"/>
<rect x="106.5" y="357.5" width="20" height="115.3" fill="none" stroke="#505050" stroke-width="0.9"/>
<path d="M116.5,356.8V358M114.5,356.8H118.5M114.5,358H118.5" stroke="#222" stroke-width="0.85" fill="none"/>
<rect x="147" y="405" width="22" height="67.8" fill="#c0c0c0"/>
<rect x="147.5" y="405.5" width="21" height="67.3" fill="none" stroke="#505050" stroke-width="0.9"/>
<path d="M157.5,402.9V407.9M155.5,402.9H159.5M155.5,407.9H159.5" stroke="#222" stroke-width="0.85" fill="none"/>
<rect x="189" y="391" width="21" height="81.8" fill="#c0c0c0"/>
<rect x="189.5" y="391.5" width="20" height="81.3" fill="none" stroke="#505050" stroke-width="0.9"/>
<rect x="231" y="389" width="21" height="83.8" fill="#c0c0c0"/>
<rect x="231.5" y="389.5" width="20" height="83.3" fill="none" stroke="#505050" stroke-width="0.9"/>
<rect x="272" y="372" width="21" height="100.8" fill="#c0c0c0"/>
<rect x="272.5" y="372.5" width="20" height="100.3" fill="none" stroke="#505050" stroke-width="0.9"/>
<path d="M282.5,369.4V375.4M280.5,369.4H284.5M280.5,375.4H284.5" stroke="#222" stroke-width="0.85" fill="none"/>
<rect x="68" y="460" width="13" height="12.8" fill="url(#pmC)"/>
<rect x="68.5" y="460.5" width="12" height="12.3" fill="none" stroke="#333" stroke-width="0.8"/>
<path d="M74.5,457.3V463.3M72.5,457.3H76.5M72.5,463.3H76.5" stroke="#222" stroke-width="0.85" fill="none"/>
<rect x="110" y="424" width="13" height="48.8" fill="url(#pmC)"/>
<rect x="110.5" y="424.5" width="12" height="48.3" fill="none" stroke="#333" stroke-width="0.8"/>
<path d="M116.5,420.5V426.9M114.5,420.5H118.5M114.5,426.9H118.5" stroke="#222" stroke-width="0.85" fill="none"/>
<rect x="151" y="412" width="13" height="60.8" fill="url(#pmC)"/>
<rect x="151.5" y="412.5" width="12" height="60.3" fill="none" stroke="#333" stroke-width="0.8"/>
<path d="M157.5,408V415M155.5,408H159.5M155.5,415H159.5" stroke="#222" stroke-width="0.85" fill="none"/>
<rect x="193" y="368" width="13" height="104.8" fill="url(#pmC)"/>
<rect x="193.5" y="368.5" width="12" height="104.3" fill="none" stroke="#333" stroke-width="0.8"/>
<path d="M199.5,365V371M197.5,365H201.5M197.5,371H201.5" stroke="#222" stroke-width="0.85" fill="none"/>
<rect x="235" y="378" width="13" height="94.8" fill="url(#pmC)"/>
<rect x="235.5" y="378.5" width="12" height="94.3" fill="none" stroke="#333" stroke-width="0.8"/>
<path d="M241.5,374.8V381.6M239.5,374.8H243.5M239.5,381.6H243.5" stroke="#222" stroke-width="0.85" fill="none"/>
<rect x="276" y="385" width="13" height="87.8" fill="url(#pmC)"/>
<rect x="276.5" y="385.5" width="12" height="87.3" fill="none" stroke="#333" stroke-width="0.8"/>
<path d="M282.5,381.9V387.9M280.5,381.9H284.5M280.5,387.9H284.5" stroke="#222" stroke-width="0.85" fill="none"/>
<rect x="162.2" y="292.2" width="139.2" height="25.2" fill="#000"/>
<rect x="159.7" y="289.7" width="139.2" height="25" fill="#fff" stroke="#666" stroke-width="0.8"/>
<rect x="163.9" y="291.8" width="21.8" height="9.1" fill="#c0c0c0" stroke="#444" stroke-width="0.6"/>
<rect x="163.9" y="303" width="21.8" height="9.6" fill="url(#pmC)" stroke="#444" stroke-width="0.6"/>
<text x="187.8" y="299.4" font-size="9.6" font-weight="bold" text-anchor="start" fill="#000" stroke="#000" stroke-width="0.25" textLength="79.7" lengthAdjust="spacing">Densification strain</text>
<text x="187.8" y="311.3" font-size="9.6" font-weight="bold" text-anchor="start" fill="#000" stroke="#000" stroke-width="0.25" textLength="107.2" lengthAdjust="spacing">Compressive stress (MPa)</text>
<text x="22.3" y="387.6" font-size="13.6" font-weight="bold" text-anchor="middle" fill="#000" stroke="#000" stroke-width="0.25" transform="rotate(-90 22.3 387.6)" textLength="108.3" lengthAdjust="spacingAndGlyphs">Densification strain</text>
<text x="349.6" y="388.5" font-size="13.6" font-weight="bold" text-anchor="middle" fill="#000" stroke="#000" stroke-width="0.25" transform="rotate(-90 349.6 388.5)" textLength="145.3" lengthAdjust="spacingAndGlyphs">Compressive stress (MPa)</text>
<text x="171.4" y="527.2" font-size="13" font-weight="normal" text-anchor="middle" fill="#000">(c)</text>
<line x1="414.1" y1="274.5" x2="681.5" y2="274.5" stroke="#666" stroke-width="1.1"/>
<line x1="414.6" y1="274.5" x2="414.6" y2="473.8" stroke="#5a5a5a" stroke-width="1.1"/>
<line x1="681.5" y1="274.5" x2="681.5" y2="473.3" stroke="#666" stroke-width="1.1"/>
<line x1="414.1" y1="473.3" x2="682" y2="473.3" stroke="#5a5a5a" stroke-width="1.1"/>
<line x1="411.1" y1="473.3" x2="414.6" y2="473.3" stroke="#5a5a5a" stroke-width="1"/>
<text x="408.1" y="478.3" font-size="14" font-weight="bold" text-anchor="end" fill="#000" stroke="#000" stroke-width="0.25" textLength="6.3" lengthAdjust="spacingAndGlyphs">0</text>
<line x1="412.6" y1="456.73" x2="414.6" y2="456.73" stroke="#5a5a5a" stroke-width="1"/>
<line x1="411.1" y1="440.17" x2="414.6" y2="440.17" stroke="#5a5a5a" stroke-width="1"/>
<text x="408.1" y="445.17" font-size="14" font-weight="bold" text-anchor="end" fill="#000" stroke="#000" stroke-width="0.25" textLength="18.9" lengthAdjust="spacingAndGlyphs">100</text>
<line x1="412.6" y1="423.6" x2="414.6" y2="423.6" stroke="#5a5a5a" stroke-width="1"/>
<line x1="411.1" y1="407.03" x2="414.6" y2="407.03" stroke="#5a5a5a" stroke-width="1"/>
<text x="408.1" y="412.03" font-size="14" font-weight="bold" text-anchor="end" fill="#000" stroke="#000" stroke-width="0.25" textLength="18.9" lengthAdjust="spacingAndGlyphs">200</text>
<line x1="412.6" y1="390.47" x2="414.6" y2="390.47" stroke="#5a5a5a" stroke-width="1"/>
<line x1="411.1" y1="373.9" x2="414.6" y2="373.9" stroke="#5a5a5a" stroke-width="1"/>
<text x="408.1" y="378.9" font-size="14" font-weight="bold" text-anchor="end" fill="#000" stroke="#000" stroke-width="0.25" textLength="18.9" lengthAdjust="spacingAndGlyphs">300</text>
<line x1="412.6" y1="357.33" x2="414.6" y2="357.33" stroke="#5a5a5a" stroke-width="1"/>
<line x1="411.1" y1="340.77" x2="414.6" y2="340.77" stroke="#5a5a5a" stroke-width="1"/>
<text x="408.1" y="345.77" font-size="14" font-weight="bold" text-anchor="end" fill="#000" stroke="#000" stroke-width="0.25" textLength="18.9" lengthAdjust="spacingAndGlyphs">400</text>
<line x1="412.6" y1="324.2" x2="414.6" y2="324.2" stroke="#5a5a5a" stroke-width="1"/>
<line x1="411.1" y1="307.63" x2="414.6" y2="307.63" stroke="#5a5a5a" stroke-width="1"/>
<text x="408.1" y="312.63" font-size="14" font-weight="bold" text-anchor="end" fill="#000" stroke="#000" stroke-width="0.25" textLength="18.9" lengthAdjust="spacingAndGlyphs">500</text>
<line x1="412.6" y1="291.07" x2="414.6" y2="291.07" stroke="#5a5a5a" stroke-width="1"/>
<line x1="411.1" y1="274.5" x2="414.6" y2="274.5" stroke="#5a5a5a" stroke-width="1"/>
<text x="408.1" y="279.5" font-size="14" font-weight="bold" text-anchor="end" fill="#000" stroke="#000" stroke-width="0.25" textLength="18.9" lengthAdjust="spacingAndGlyphs">600</text>
<line x1="436.84" y1="473.3" x2="436.84" y2="477.3" stroke="#5a5a5a" stroke-width="1"/>
<line x1="481.33" y1="473.3" x2="481.33" y2="477.3" stroke="#5a5a5a" stroke-width="1"/>
<line x1="459.08" y1="473.3" x2="459.08" y2="475.3" stroke="#5a5a5a" stroke-width="1"/>
<line x1="525.81" y1="473.3" x2="525.81" y2="477.3" stroke="#5a5a5a" stroke-width="1"/>
<line x1="503.57" y1="473.3" x2="503.57" y2="475.3" stroke="#5a5a5a" stroke-width="1"/>
<line x1="570.29" y1="473.3" x2="570.29" y2="477.3" stroke="#5a5a5a" stroke-width="1"/>
<line x1="548.05" y1="473.3" x2="548.05" y2="475.3" stroke="#5a5a5a" stroke-width="1"/>
<line x1="614.77" y1="473.3" x2="614.77" y2="477.3" stroke="#5a5a5a" stroke-width="1"/>
<line x1="592.53" y1="473.3" x2="592.53" y2="475.3" stroke="#5a5a5a" stroke-width="1"/>
<line x1="659.26" y1="473.3" x2="659.26" y2="477.3" stroke="#5a5a5a" stroke-width="1"/>
<line x1="637.02" y1="473.3" x2="637.02" y2="475.3" stroke="#5a5a5a" stroke-width="1"/>
<text x="435.64" y="486.8" font-size="9.4" font-weight="bold" text-anchor="middle" fill="#000" stroke="#000" stroke-width="0.25" textLength="33.32" lengthAdjust="spacing">As-built</text>
<text x="435.64" y="499.1" font-size="9.4" font-weight="bold" text-anchor="middle" fill="#000" stroke="#000" stroke-width="0.25" textLength="19.89" lengthAdjust="spacing">pure</text>
<text x="435.64" y="511.3" font-size="9.4" font-weight="bold" text-anchor="middle" fill="#000" stroke="#000" stroke-width="0.25" textLength="42.25" lengthAdjust="spacing">aluminum</text>
<text x="480.13" y="486.8" font-size="9.4" font-weight="bold" text-anchor="middle" fill="#000" stroke="#000" stroke-width="0.25" textLength="44.4" lengthAdjust="spacing">As-foamed</text>
<text x="480.13" y="499.1" font-size="9.4" font-weight="bold" text-anchor="middle" fill="#000" stroke="#000" stroke-width="0.25" textLength="19.89" lengthAdjust="spacing">pure</text>
<text x="480.13" y="511.3" font-size="9.4" font-weight="bold" text-anchor="middle" fill="#000" stroke="#000" stroke-width="0.25" textLength="42.25" lengthAdjust="spacing">aluminum</text>
<text x="524.61" y="486.8" font-size="9.4" font-weight="bold" text-anchor="middle" fill="#000" stroke="#000" stroke-width="0.25" textLength="33.32" lengthAdjust="spacing">As-built</text>
<text x="524.61" y="499.1" font-size="9.4" font-weight="bold" text-anchor="middle" fill="#000" stroke="#000" stroke-width="0.25" textLength="29.02" lengthAdjust="spacing">Al6063</text>
<text x="569.09" y="486.8" font-size="9.4" font-weight="bold" text-anchor="middle" fill="#000" stroke="#000" stroke-width="0.25" textLength="44.4" lengthAdjust="spacing">As-foamed</text>
<text x="569.09" y="499.1" font-size="9.4" font-weight="bold" text-anchor="middle" fill="#000" stroke="#000" stroke-width="0.25" textLength="29.02" lengthAdjust="spacing">Al6063</text>
<text x="613.57" y="486.8" font-size="9.4" font-weight="bold" text-anchor="middle" fill="#000" stroke="#000" stroke-width="0.25" textLength="33.32" lengthAdjust="spacing">As-built</text>
<text x="613.57" y="499.1" font-size="9.4" font-weight="bold" text-anchor="middle" fill="#000" stroke="#000" stroke-width="0.25" textLength="42.46" lengthAdjust="spacing">AlSi10Mg</text>
<text x="658.06" y="486.8" font-size="9.4" font-weight="bold" text-anchor="middle" fill="#000" stroke="#000" stroke-width="0.25" textLength="44.4" lengthAdjust="spacing">As-foamed</text>
<text x="658.06" y="499.1" font-size="9.4" font-weight="bold" text-anchor="middle" fill="#000" stroke="#000" stroke-width="0.25" textLength="42.46" lengthAdjust="spacing">AlSi10Mg</text>
<rect x="428" y="410" width="18" height="63.3" fill="url(#pd1)"/>
<rect x="428.5" y="410.5" width="17" height="62.8" fill="none" stroke="#333" stroke-width="0.8"/>
<path d="M436.5,407.1V413.5M434.5,407.1H438.5M434.5,413.5H438.5" stroke="#222" stroke-width="0.85" fill="none"/>
<rect x="472" y="390" width="18" height="83.3" fill="url(#pd2)"/>
<rect x="472.5" y="390.5" width="17" height="82.8" fill="none" stroke="#333" stroke-width="0.8"/>
<path d="M481.5,386.7V392.3M479.5,386.7H483.5M479.5,392.3H483.5" stroke="#222" stroke-width="0.85" fill="none"/>
<rect x="517" y="386" width="18" height="87.3" fill="url(#pd3)"/>
<rect x="517.5" y="386.5" width="17" height="86.8" fill="none" stroke="#333" stroke-width="0.8"/>
<path d="M525.5,382.5V390.1M523.5,382.5H527.5M523.5,390.1H527.5" stroke="#222" stroke-width="0.85" fill="none"/>
<rect x="561" y="358" width="18" height="115.3" fill="url(#pd4)"/>
<rect x="561.5" y="358.5" width="17" height="114.8" fill="none" stroke="#333" stroke-width="0.8"/>
<path d="M570.5,354.4V361.4M568.5,354.4H572.5M568.5,361.4H572.5" stroke="#222" stroke-width="0.85" fill="none"/>
<rect x="606" y="334" width="18" height="139.3" fill="url(#pd5)"/>
<rect x="606.5" y="334.5" width="17" height="138.8" fill="none" stroke="#333" stroke-width="0.8"/>
<path d="M614.5,330.7V337.7M612.5,330.7H616.5M612.5,337.7H616.5" stroke="#222" stroke-width="0.85" fill="none"/>
<rect x="650" y="339" width="18" height="134.3" fill="url(#pd6)"/>
<rect x="650.5" y="339.5" width="17" height="133.8" fill="none" stroke="#333" stroke-width="0.8"/>
<path d="M659.5,336V342.4M657.5,336H661.5M657.5,342.4H661.5" stroke="#222" stroke-width="0.85" fill="none"/>
<text x="380.3" y="382" font-size="14.4" font-weight="bold" text-anchor="middle" fill="#000" stroke="#000" stroke-width="0.25" transform="rotate(-90 380.3 382)" textLength="187.6" lengthAdjust="spacingAndGlyphs">Specific energy absorption (J/g)</text>
<text x="548.4" y="527" font-size="13" font-weight="normal" text-anchor="middle" fill="#000">(d)</text>
</svg></body></html>
